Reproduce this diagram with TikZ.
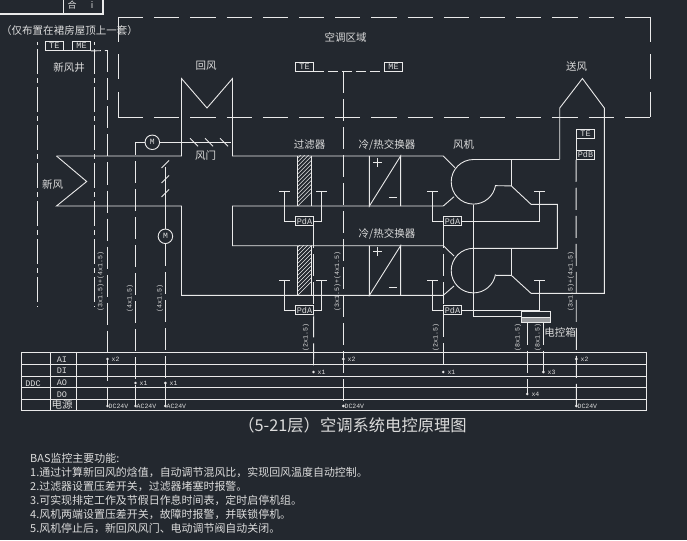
\documentclass[tikz,border=0pt]{standalone}
\usepackage{fontspec}
\setmainfont{Noto Sans CJK SC}
\setmonofont{Liberation Mono}
\usetikzlibrary{shapes.geometric}
\definecolor{bgcol}{HTML}{23282F}
\definecolor{linecol}{HTML}{EAEAEA}
\definecolor{txtcol}{HTML}{DCDCDC}
\tikzset{
  duct/.style={draw=linecol, line width=0.9pt},
  sigline/.style={duct, dash pattern=on 22pt off 6pt},
  sigshort/.style={duct, dash pattern=on 10pt off 4pt},
  welline/.style={duct, dash pattern=on 25pt off 4pt on 5pt off 4pt, dash phase=31pt},
  lab/.style={inner sep=0pt, text=txtcol, font=\fontsize{10.5}{12}\selectfont},
  sensor/.style={draw=linecol, line width=0.9pt, inner sep=0pt, minimum width=18pt, minimum height=9pt,
    text=txtcol, font=\ttfamily\fontsize{8.5}{9}\selectfont},
  motor/.style={circle, draw=linecol, line width=0.9pt, inner sep=0pt, minimum size=14.5pt,
    text=txtcol, font=\ttfamily\fontsize{8}{9}\selectfont},
  cable/.style={inner sep=0pt, rotate=90, text=txtcol, font=\ttfamily\fontsize{6.6}{7}\selectfont},
  ddclab/.style={inner sep=0pt, text=txtcol, font=\ttfamily\fontsize{8.5}{9}\selectfont},
  tag/.style={inner sep=0pt, anchor=west, text=txtcol, font=\ttfamily\fontsize{6.5}{7}\selectfont},
  tipmark/.style={diamond, fill=linecol, inner sep=0pt, minimum size=3pt},
  note/.style={inner sep=0pt, anchor=west, text=txtcol, font=\fontsize{10.95}{12}\selectfont},
}
\begin{document}
\begin{tikzpicture}[x=1pt, y=-1pt]
  \useasboundingbox (0,0) rectangle (687,540);
  \fill[bgcol] (0,0) rectangle (687,540);
  % fragment at the top edge
  \draw[duct, line width=1.2pt] (0,14) -- (103,14) -- (103,0);
  \draw[duct, line width=1.2pt] (63.5,0) -- (63.5,14);
  \node[lab, font=\fontsize{9}{9}\selectfont] (cut1) at (72,5.5) {合};
  \node[lab, font=\fontsize{9}{9}\selectfont] (cut2) at (92,5.5) {i};
  % air conditioned zone
  \draw[duct, dash pattern=on 25.2pt off 11pt] (118,17) -- (650,17);
  \draw[duct, dash pattern=on 25.2pt off 11pt] (118,117) -- (650,117);
  \draw[duct, dash pattern=on 25pt off 12.5pt] (118,17) -- (118,117);
  \draw[duct, dash pattern=on 25pt off 12.5pt] (650,17) -- (650,117);
  \node[lab] (zone) at (345.5,37) {空调区域};
  % fresh air shaft
  \node[lab] (roofnote) at (69.5,31) {（仅布置在裙房屋顶上一套）};
  \node[lab] (shaft) at (69,68) {新风井};
  \draw[welline] (37.5,42) -- (37.5,307);
  \draw[welline] (94.5,42) -- (94.5,307);
  % ducts
  \draw[duct] (56.5,156) -- (181.5,156) -- (181.5,78.5) -- (207,108) -- (232.5,78.5) -- (232.5,156) -- (443.3,156) -- (455,167.7);
  \draw[duct] (56.5,156) -- (86.7,181.5) -- (56.5,206) -- (181.5,206) -- (181.5,295.3) -- (443.3,295.3) -- (454,286);
  \draw[duct] (443.3,206) -- (232.5,206) -- (232.5,245.7) -- (443.3,245.7) -- (454,256);
  \draw[duct] (443.3,206) -- (454,196.7);
  \draw[duct] (559.7,159.5) -- (559.7,108) -- (582.4,78.5) -- (604.3,108) -- (604.3,293.3) -- (531,293.3) -- (511.3,275.3) -- (495.6,275.3);
  % fans
  \draw[duct] (559.7,159.5) -- (473.5,159.5) arc[start angle=90, end angle=350, radius=22.3pt] -- (511.3,185.9) -- (531,204.3) -- (557.3,204.3) -- (557.3,248.3) -- (473.5,248.3) arc[start angle=90, end angle=350, radius=22.3pt];
  \draw[duct] (511.3,159.5) -- (511.3,185.9);
  \draw[duct] (511.3,248.3) -- (511.3,275.3);
  \draw[duct] (473.5,204.5) -- (473.5,316.7) -- (521.3,316.7);
  % filters and coils
  \foreach \ya/\yb in {156/206, 245.7/295.3}{
    \begin{scope}
      \clip (297.7,\ya) rectangle (311.7,\yb);
      \foreach \h in {0,4,...,76}{
        \draw[duct, line width=0.6pt] (297.7,\yb-\h) -- ++(20,-20);
      }
    \end{scope}
    \draw[duct] (297.7,\ya) -- (297.7,\yb) (311.7,\ya) -- (311.7,\yb);
    \draw[duct] (369.4,\ya) -- (369.4,\yb) -- (400.6,\ya) -- (400.6,\yb);
  }
  \foreach \yp/\ym in {162.4/197.4, 251.4/287.3}{
    \draw[duct] (373,\yp) -- (382,\yp) (377.5,\yp-4.5) -- (377.5,\yp+4.5);
    \draw[duct] (389,\ym) -- (397,\ym);
  }
  % pressure switches
  \node[sensor, minimum width=17.5pt] (pda1) at (304.5,221.2) {PdA};
  \node[sensor, minimum width=17.5pt] (pda2) at (304.5,310.4) {PdA};
  \node[sensor, minimum width=17.5pt] (pda3) at (452.5,221.2) {PdA};
  \node[sensor, minimum width=17.5pt] (pda4) at (452.5,310.4) {PdA};
  \foreach \nd/\xl/\xr/\yb in {pda1/284.5/321.3/191.3, pda2/284.5/321.3/280.3, pda3/432.3/539.7/191.3, pda4/432.3/539.7/280.3}{
    \draw[duct] (\xl-5.3,\yb) -- (\xl+5.3,\yb) (\xr-5.3,\yb) -- (\xr+5.3,\yb);
    \draw[duct] (\nd.west) -| (\xl,\yb);
    \draw[duct] (\nd.east) -| (\xr,\yb);
  }
  % actuators
  \node[motor] (m1) at (152.3,142.3) {M};
  \node[motor] (m2) at (165.4,236.3) {M};
  \coordinate (shaft1) at (231,142.3);
  \coordinate (shaft2) at (165.4,167);
  \draw[duct] (m1.east) -- (shaft1);
  \draw[duct] (shaft2) -- (m2.north);
  \foreach \a in {190,205,220}{
    \draw[duct] (\a,138.3) -- ++(8,8);
  }
  \foreach \a in {168,183,197}{
    \draw[duct] (161.5,\a) -- ++(7.5,-7.5);
  }
  % sensors
  \node[sensor] (te1) at (54.3,46) {TE};
  \node[sensor] (me1) at (81.5,46) {ME};
  \node[sensor] (te2) at (304.5,66.7) {TE};
  \node[sensor] (me2) at (393.5,66.7) {ME};
  \node[sensor] (te3) at (585.5,134) {TE};
  \node[sensor] (pdb) at (585.5,154.8) {PdB};
  % control box
  \node[draw=linecol, line width=0.9pt, minimum width=29.3pt, minimum height=11.3pt, inner sep=0pt] (ctrl) at (536,316.7) {};
  \fill[linecol!60!bgcol] (521.8,318.3) rectangle (550.2,322);
  \draw[duct, line width=0.6pt] (521.3,317.5) -- (550.7,317.5);
  \node[lab] (ctrllab) at (560,332.5) {电控箱};
  % table
  \draw[duct] (21.3,352.3) rectangle (646.5,410.3);
  \foreach \y in {364.3,376.3,387.7,399.7}{
    \draw[duct] (21.3,\y) -- (646.5,\y);
  }
  \draw[duct] (50.7,352.3) -- (50.7,410.3) (76.7,352.3) -- (76.7,410.3);
  \node[ddclab] (ai) at (62,359.7) {AI};
  \node[ddclab] (di) at (62,370.7) {DI};
  \node[ddclab] (ao) at (62,382.7) {AO};
  \node[ddclab] (dov) at (62,394.7) {DO};
  \node[lab] (power) at (62,405) {电源};
  \node[ddclab] (ddc) at (33,383.7) {DDC};
  % signal lines
  \coordinate (tap1) at (107.5,406);
  \coordinate (tap2) at (135.5,406);
  \coordinate (tap3) at (165.4,406);
  \coordinate (tap4) at (343.4,406);
  \coordinate (tap5) at (576.4,406);
  \coordinate (tap6) at (313.5,372);
  \coordinate (tap7) at (443.3,372);
  \coordinate (tap8) at (527.3,394);
  \coordinate (tap9) at (543.4,372);
  \draw[sigshort] (te1.south east) -- (me1.south west);
  \draw[sigshort] (te2.south east) -- (me2.south west);
  \draw[sigshort] (me1.south east) -- (107.5,50.5);
  \draw[sigline] (107.5,50.5) -- (tap1);
  \draw[sigline] (m1.west) -| (tap2);
  \draw[sigline] (m2.south) -- (tap3);
  \draw[sigline] (343.4,71.2) -- (tap4);
  \draw[sigline] (te3.south west) -- (pdb.north west);
  \draw[sigline] (pdb.south west) -- (tap5);
  \draw[sigline] (pda1.south east) -- (pda2.north east);
  \draw[sigline] (pda2.south east) -- (tap6);
  \draw[sigline] (pda3.south west) -- (pda4.north west);
  \draw[sigline] (pda4.south west) -- (tap7);
  \draw[sigline] (ctrl.south west -| tap8) -- (tap8);
  \draw[sigline] (ctrl.south west -| tap9) -- (tap9);
  % points and counts
  \foreach \cx/\cy/\txt [count=\i] in {107.5/359/x2, 135.5/383/x1, 165.4/383/x1, 343.4/359/x2, 576.4/359/x2, 313.5/372/x1, 443.3/372/x1, 543.4/372/x3, 527.3/394/x4}{
    \node[tipmark] (pt\i) at (\cx,\cy) {};
    \node[tag] (ptlab\i) at (\cx+4,\cy) {\txt};
  }
  \foreach \cx/\txt [count=\i] in {107.5/DC24V, 135.5/AC24V, 165.4/AC24V, 343.4/DC24V, 576.4/DC24V}{
    \node[tipmark] (src\i) at (\cx,406) {};
    \node[tag] (srclab\i) at (\cx+1,406) {\txt};
  }
  % cable sizes
  \node[cable] (c1) at (100.7,281.7) {(3x1.5)+(4x1.5)};
  \node[cable] (c2) at (130,298.5) {(4x1.5)};
  \node[cable] (c3) at (160,298.5) {(4x1.5)};
  \node[cable] (c4) at (337.3,281.7) {(3x1.5)+(4x1.5)};
  \node[cable] (c5) at (571,281.7) {(3x1.5)+(4x1.5)};
  \node[cable] (c6) at (306,337.5) {(2x1.5)};
  \node[cable] (c7) at (436,337.5) {(2x1.5)};
  \node[cable] (c8) at (518,337.5) {(8x1.5)};
  \node[cable] (c9) at (538,337.5) {(8x1.5)};
  % air labels
  \node[lab] (ret) at (206,66) {回风};
  \node[lab] (sup) at (576.5,67) {送风};
  \node[lab] (dmp) at (205.5,156) {风门};
  \node[lab] (fresh) at (52.5,184) {新风};
  \node[lab] (flt) at (309.5,145) {过滤器};
  \node[lab] (coil1) at (387,145) {冷/热交换器};
  \node[lab] (coil2) at (387,234) {冷/热交换器};
  \node[lab] (fan) at (463.5,145) {风机};
  % title and notes
  \node[lab, font=\fontsize{16.3}{18}\selectfont] (title) at (352.5,425) {（5-21层）空调系统电控原理图};
  \node[note] (n0) at (30,458) {BAS监控主要功能:};
  \node[note] (n1) at (30,472.7) {1.通过计算新回风的焓值，自动调节混风比，实现回风温度自动控制。};
  \node[note] (n2) at (30,486.7) {2.过滤器设置压差开关，过滤器堵塞时报警。};
  \node[note] (n3) at (30,500.7) {3.可实现排定工作及节假日作息时间表，定时启停机组。};
  \node[note] (n4) at (30,514.7) {4.风机两端设置压差开关，故障时报警，并联锁停机。};
  \node[note] (n5) at (30,528.7) {5.风机停止后，新回风风门、电动调节阀自动关闭。};
\end{tikzpicture}
\end{document}
